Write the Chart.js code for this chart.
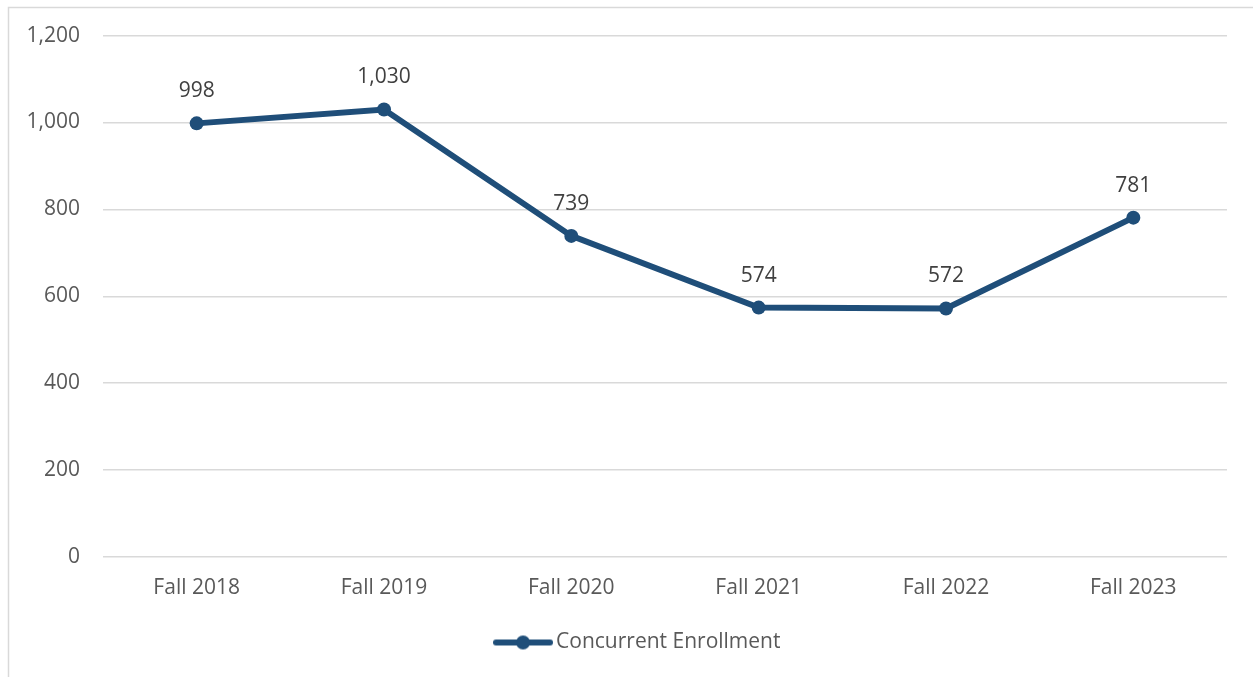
<!DOCTYPE html>
<html>
<head>
<meta charset="utf-8">
<script src="https://cdn.jsdelivr.net/npm/chart.js@4/dist/chart.umd.min.js"></script>
<style>
  html, body { margin: 0; padding: 0; background: #ffffff; }
  #wrap { position: relative; width: 1253px; height: 677px; }
</style>
</head>
<body>
<div id="wrap"><canvas id="c" width="1253" height="677"></canvas></div>
<script>
const categories = ["Fall 2018", "Fall 2019", "Fall 2020", "Fall 2021", "Fall 2022", "Fall 2023"];
const enrollment = [998, 1030, 739, 574, 572, 781];
const seriesName = "Concurrent Enrollment";
const yTicks = [0, 200, 400, 600, 800, 1000, 1200];

const LINE_COLOR = "#1F4E79";
const TEXT_COLOR = "#595959";
const FONT = "'Open Sans', 'Liberation Sans', sans-serif";

// legend marker: line with a dot
const marker = document.createElement("canvas");
marker.width = 60; marker.height = 16;
(function () {
  const m = marker.getContext("2d");
  m.strokeStyle = LINE_COLOR; m.lineWidth = 6; m.lineCap = "round";
  m.beginPath(); m.moveTo(3, 8); m.lineTo(57, 8); m.stroke();
  m.fillStyle = LINE_COLOR;
  m.beginPath(); m.arc(30, 8, 7, 0, Math.PI * 2); m.fill();
})();

const framePlugin = {
  id: "frame",
  beforeDraw(chart) {
    const ctx = chart.ctx;
    ctx.save();
    ctx.strokeStyle = "#d9d9d9";
    ctx.lineWidth = 1.5;
    ctx.strokeRect(8.5, 7.5, 1400, 800);
    ctx.restore();
  }
};

// nudge the legend box so it sits where the reference places it
const legendShift = {
  id: "legendShift",
  afterLayout(chart) {
    if (chart.legend) {
      chart.legend.left += 27;
      chart.legend.right += 27;
    }
  }
};

const labelPlugin = {
  id: "valueLabels",
  afterDatasetsDraw(chart) {
    const ctx = chart.ctx;
    const meta = chart.getDatasetMeta(0);
    ctx.save();
    ctx.font = "21px " + FONT;
    ctx.fillStyle = "#404040";
    ctx.textAlign = "center";
    ctx.textBaseline = "middle";
    meta.data.forEach((pt, i) => {
      ctx.fillText(enrollment[i].toLocaleString("en-US"), pt.x, pt.y - 32);
    });
    ctx.restore();
  }
};

new Chart(document.getElementById("c"), {
  type: "line",
  data: {
    labels: categories,
    datasets: [{
      label: seriesName,
      data: enrollment,
      borderColor: LINE_COLOR,
      backgroundColor: LINE_COLOR,
      borderWidth: 6,
      pointRadius: 7,
      pointHoverRadius: 7,
      pointBackgroundColor: LINE_COLOR,
      pointBorderWidth: 0,
      pointStyle: "circle",
      tension: 0,
      fill: false
    }]
  },
  options: {
    responsive: false,
    animation: false,
    devicePixelRatio: 1,
    layout: { padding: { left: 0, right: 26, top: 22, bottom: 14 } },
    scales: {
      x: {
        type: "category",
        offset: true,
        grid: { display: false, drawTicks: false },
        border: { display: false },
        ticks: { color: TEXT_COLOR, font: { family: FONT, size: 21 }, padding: 18, maxRotation: 0 },
        afterFit(scale) { scale.height = 65; }
      },
      y: {
        min: 0, max: 1200,
        afterBuildTicks(scale) { scale.ticks = yTicks.map(v => ({ value: v })); },
        grid: { color: "#d9d9d9", lineWidth: 1.5, drawTicks: false },
        border: { display: false },
        ticks: {
          color: TEXT_COLOR, font: { family: FONT, size: 21 }, padding: 23,
          callback: v => Number(v).toLocaleString("en-US")
        },
        afterFit(scale) { scale.width = 103; }
      }
    },
    plugins: {
      legend: {
        display: true,
        position: "bottom",
        labels: {
          color: TEXT_COLOR,
          font: { family: FONT, size: 21 },
          usePointStyle: true,
          pointStyle: marker,
          pointStyleWidth: 45,
          padding: 10
        }
      },
      tooltip: { enabled: false }
    }
  },
  plugins: [framePlugin, legendShift, labelPlugin]
});
</script>
</body>
</html>
